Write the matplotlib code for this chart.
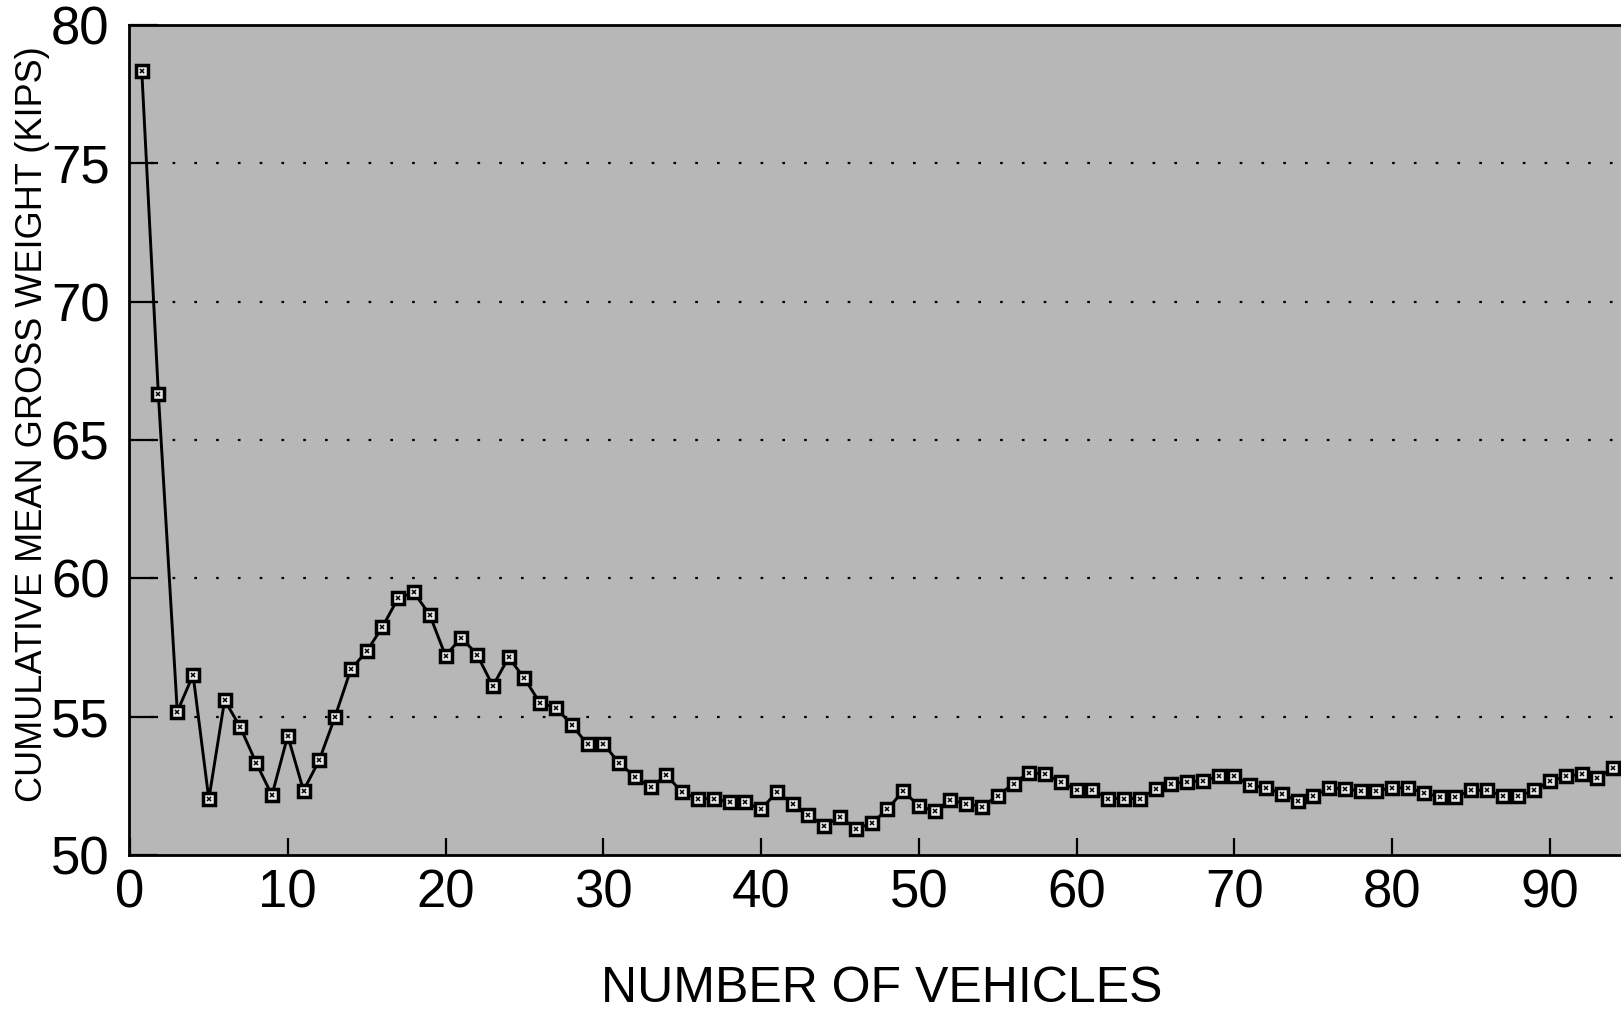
import matplotlib
matplotlib.use("Agg")
import matplotlib.pyplot as plt

plt.rcParams['font.family'] = ['Liberation Sans', 'DejaVu Sans']

# Anzahl Fahrzeuge (x) und kumulatives Mittel Gesamtgewicht in kips (y)
vehicles = [0.75, 1.8] + list(range(3, 95))
mean_weight = [
    78.33, 66.67, 55.18, 56.51, 52.02, 55.60, 54.61, 53.33, 52.16, 54.31,
    52.33, 53.43, 55.00, 56.71, 57.36, 58.24, 59.29, 59.49, 58.68, 57.20,
    57.86, 57.24, 56.11, 57.14, 56.39, 55.48, 55.33, 54.70, 54.00, 54.02,
    53.33, 52.83, 52.44, 52.89, 52.26, 52.04, 52.04, 51.90, 51.90, 51.65,
    52.28, 51.86, 51.44, 51.05, 51.38, 50.95, 51.14, 51.65, 52.31, 51.78,
    51.58, 51.98, 51.86, 51.74, 52.14, 52.58, 52.98, 52.92, 52.64, 52.34,
    52.34, 52.04, 52.04, 52.04, 52.37, 52.58, 52.64, 52.68, 52.85, 52.85,
    52.52, 52.43, 52.22, 51.95, 52.12, 52.43, 52.38, 52.32, 52.32, 52.43,
    52.43, 52.25, 52.10, 52.10, 52.34, 52.34, 52.13, 52.13, 52.34, 52.67,
    52.85, 52.92, 52.80, 53.13,
]
x_ticks = [0, 10, 20, 30, 40, 50, 60, 70, 80, 90]
y_ticks = [50, 55, 60, 65, 70, 75, 80]

fig = plt.figure(figsize=(16.21, 10.11), dpi=100)
ax = fig.add_axes([129 / 1621, 1 - 855 / 1011, 1492 / 1621, 830 / 1011])
ax.set_facecolor('#b7b7b7')

# gepunktete Hilfslinien
for yv in y_ticks[1:-1]:
    ax.axhline(yv, color='black', lw=1.6, linestyle=(0, (1.2, 8.6)),
               dash_capstyle='butt', zorder=1)

ax.plot(vehicles, mean_weight, color='black', lw=2.1, zorder=2)
ax.plot(vehicles, mean_weight, linestyle='none', marker='s', markersize=8.5,
        mfc='#e8e8e8', mec='black', mew=2.5, zorder=3)
ax.plot(vehicles, mean_weight, linestyle='none', marker='x', markersize=3.5,
        mec='black', mew=1.1, zorder=4)

ax.set_xlim(-0.06, 94.5)
ax.set_ylim(50, 80)
ax.set_xticks(x_ticks)
ax.set_yticks(y_ticks)
ax.tick_params(axis='x', direction='in', length=12, width=1.6, pad=10)
ax.tick_params(axis='y', direction='in', length=21, width=1.6, pad=14)
for lab in ax.get_xticklabels() + ax.get_yticklabels():
    lab.set_fontfamily(['Liberation Sans Narrow', 'Liberation Sans'])
    lab.set_fontsize(38)

for side in ['top', 'left', 'bottom']:
    ax.spines[side].set_linewidth(2)
ax.spines['right'].set_visible(False)

fig.text(33 / 1621, 1 - 424 / 1011, 'CUMULATIVE MEAN GROSS WEIGHT (KIPS)',
         rotation=90, ha='center', va='center', fontsize=26)
fig.text(882 / 1621, 1 - 989 / 1011, 'NUMBER OF VEHICLES',
         ha='center', va='center', fontsize=36)

fig.savefig('out.png', dpi=100, facecolor='white')
